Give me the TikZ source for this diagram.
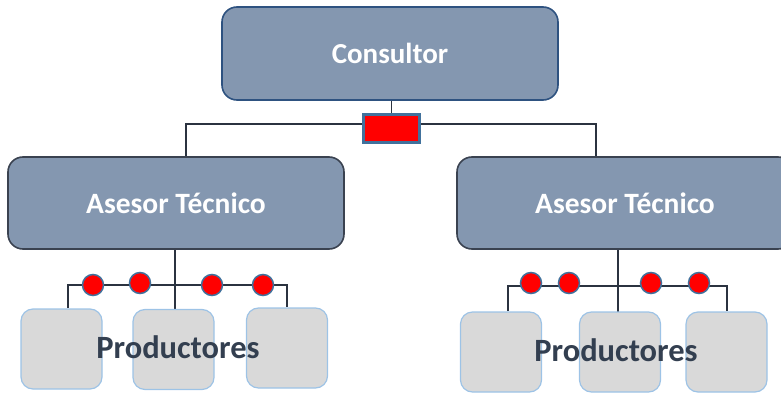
\documentclass[tikz,border=0pt]{standalone}
\usepackage{fontspec}
\setmainfont{Carlito}
\usetikzlibrary{backgrounds}
\definecolor{boxfill}{HTML}{8497B0}
\definecolor{boxblue}{HTML}{2E5280}
\definecolor{boxgray}{HTML}{3A4250}
\definecolor{linecol}{HTML}{2B3340}
\definecolor{prodfill}{HTML}{D9D9D9}
\definecolor{prodline}{HTML}{9DC3E6}
\definecolor{dotline}{HTML}{41719C}
\definecolor{prodtext}{HTML}{333F50}
\tikzset{
  topbox/.style={rectangle, rounded corners=15pt, fill=boxfill, draw=boxblue, line width=1.6pt,
    minimum width=336pt, minimum height=93pt, text=white, font=\bfseries\fontsize{29}{34}\selectfont, inner sep=0pt},
  midbox/.style={rectangle, rounded corners=15pt, fill=boxfill, draw=boxgray, line width=1.6pt,
    minimum width=336pt, minimum height=92pt, text=white, font=\bfseries\fontsize{29.5}{34}\selectfont, inner sep=0pt},
  prodbox/.style={rectangle, rounded corners=12pt, fill=prodfill, draw=prodline, line width=1.2pt,
    minimum width=81pt, minimum height=80pt, inner sep=0pt},
  prodlabel/.style={text=prodtext, font=\bfseries\fontsize{32.5}{38}\selectfont, inner sep=0pt},
  reddot/.style={circle, fill=red, draw=dotline, line width=1.5pt, minimum size=21pt, inner sep=0pt},
  redbox/.style={rectangle, fill=red, draw=dotline, line width=3pt, minimum width=56pt, minimum height=28pt, inner sep=0pt},
  conn/.style={draw=linecol, line width=1.8pt},
}
\begin{document}
\begin{tikzpicture}[x=1pt,y=-1pt]
\useasboundingbox (0,0) rectangle (781,393);
% top
\node[topbox] (cons) at (390,53.5) {Consultor};
\node[redbox] (rb) at (391.5,128.5) {};
\node[midbox] (al) at (176,203) {Asesor Técnico};
\node[midbox] (ar) at (625,203) {Asesor Técnico};
% left productores
\node[prodbox] (l1) at (61.5,349) {};
\node[prodbox] (l2) at (173.5,349.5) {};
\node[prodbox] (l3) at (287,348) {};
\node[prodlabel] (lt) at (178,347) {Productores};
% right productores
\node[prodbox] (r1) at (501,352) {};
\node[prodbox] (r2) at (620,352) {};
\node[prodbox] (r3) at (726.5,352) {};
\node[prodlabel] (rt) at (616,350) {Productores};
% junction coordinates
\coordinate (jtl) at (186,124);
\coordinate (jtr) at (596,124);
\coordinate (jll) at (68,285);
\coordinate (jlr) at (287,285);
\coordinate (jrl) at (508,286);
\coordinate (jrr) at (727,286);
\begin{scope}[on background layer]
  \draw[conn] (cons.south -| rb) -- (rb);
  \draw[conn] (jtl |- al.north) -- (jtl) -- (jtr) -- (jtr |- ar.north);
  \draw[conn] (al.south -| 175,0) -- (175,311);
  \draw[conn] (jll |- l1.north) -- (jll) -- (jlr) -- (jlr |- l3.north);
  \draw[conn] (ar.south -| 618,0) -- (618,312);
  \draw[conn] (jrl |- r1.north) -- (jrl) -- (jrr) -- (jrr |- r3.north);
\end{scope}
% dots
\node[reddot] (dl1) at (93,285) {};
\node[reddot] (dl2) at (140,283) {};
\node[reddot] (dl3) at (212,285) {};
\node[reddot] (dl4) at (263,285) {};
\node[reddot] (dr1) at (531,283) {};
\node[reddot] (dr2) at (569,283) {};
\node[reddot] (dr3) at (651,283) {};
\node[reddot] (dr4) at (699,283) {};
\end{tikzpicture}
\end{document}
